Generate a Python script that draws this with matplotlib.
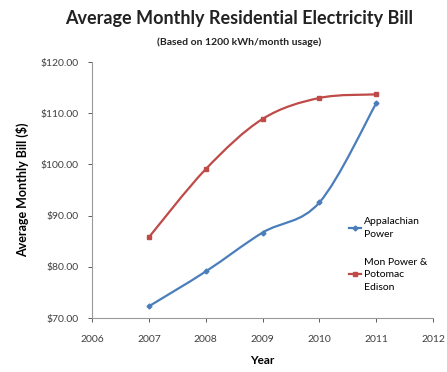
import matplotlib
matplotlib.use("Agg")
import matplotlib.pyplot as plt
from matplotlib.path import Path
from matplotlib.patches import PathPatch
import numpy as np

years = [2007, 2008, 2009, 2010, 2011]
appalachian = [72.3, 79.1, 86.7, 92.6, 112.0]
mon_potomac = [85.8, 99.1, 108.9, 113.0, 113.7]
series_names = ["Appalachian\nPower", "Mon Power &\nPotomac\nEdison"]
y_ticks = [70, 80, 90, 100, 110, 120]
x_ticks = [2006, 2007, 2008, 2009, 2010, 2011, 2012]

plt.rcParams['font.family'] = ['Lato', 'DejaVu Sans']


def smooth_path(xs, ys, tension=1 / 6):
    """Excel-like smoothed line as cubic Bezier segments in data coords."""
    pts = np.column_stack([xs, ys]).astype(float)
    verts = [pts[0]]
    codes = [Path.MOVETO]
    n = len(pts)
    for i in range(n - 1):
        p0 = pts[i - 1] if i > 0 else pts[i]
        p1 = pts[i]
        p2 = pts[i + 1]
        p3 = pts[i + 2] if i + 2 < n else pts[i + 1]
        c1 = p1 + (p2 - p0) * tension
        c2 = p2 - (p3 - p1) * tension
        verts += [c1, c2, p2]
        codes += [Path.CURVE4] * 3
    return Path(verts, codes)


fig = plt.figure(figsize=(4.47, 3.72), dpi=100)
ax = fig.add_axes([0.206, 0.145, 0.763, 0.688])

blue = '#4A7EBB'
red = '#BE4B48'

for vals, color, marker, ms, name in [
    (appalachian, blue, 'D', 2.5, series_names[0]),
    (mon_potomac, red, 's', 2.8, series_names[1]),
]:
    ax.add_patch(PathPatch(smooth_path(years, vals), facecolor='none',
                           edgecolor=color, lw=1.6))
    ax.plot(years, vals, linestyle='none', marker=marker, ms=ms,
            color=color)
    ax.plot([], [], color=color, lw=1.6, marker=marker, ms=ms, label=name)

ax.set_xlim(2006, 2012)
ax.set_ylim(70, 120)
ax.set_xticks(x_ticks)
ax.set_yticks(y_ticks)
ax.set_yticklabels(['${:.2f}'.format(v) for v in y_ticks])
ax.tick_params(labelsize=7.5, colors='#404040', length=3, width=0.6)
ax.tick_params(axis='y', pad=7)
ax.tick_params(axis='x', pad=9)
for s in ['top', 'right']:
    ax.spines[s].set_visible(False)
for s in ['left', 'bottom']:
    ax.spines[s].set_color('#9a9a9a')
    ax.spines[s].set_linewidth(0.8)

ax.set_xlabel('Year', fontsize=8.5, fontweight='bold', labelpad=8)
ax.set_ylabel('Average Monthly Bill ($)', fontsize=9, fontweight='bold',
              labelpad=8)

leg = ax.legend(loc='upper left', bbox_to_anchor=(0.742, 0.41), frameon=False,
                fontsize=7.5, handlelength=1.1, handletextpad=0.3,
                labelspacing=1.8, borderaxespad=0)
for t in leg.get_texts():
    t.set_linespacing(1.5)

fig.text(0.535, 0.950, 'Average Monthly Residential Electricity Bill',
         ha='center', va='center', fontsize=13, fontweight='bold',
         color='#222222')
fig.text(0.535, 0.887, '(Based on 1200 kWh/month usage)', ha='center',
         va='center', fontsize=7.5, fontweight='bold', color='#222222')

fig.savefig('out.png', dpi=100)
